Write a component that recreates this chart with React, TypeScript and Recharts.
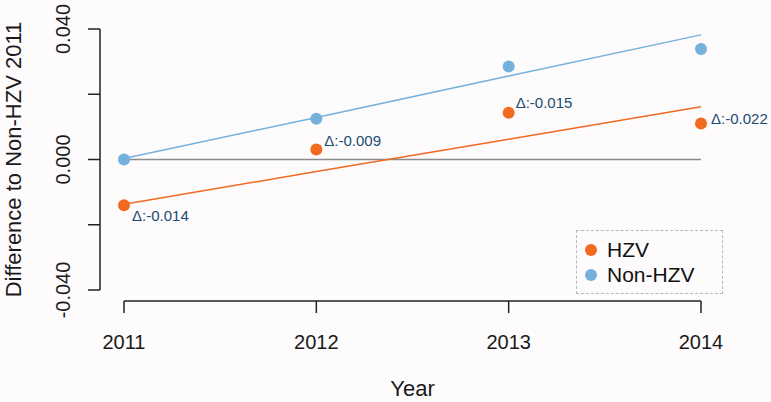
import React from 'react';
import {
  ComposedChart,
  Line,
  XAxis,
  YAxis,
  ReferenceLine,
  LabelList,
  Label
} from 'recharts';

const years = [2011, 2012, 2013, 2014];
const hzv = [-0.014, 0.0031, 0.0143, 0.011];
const nonHzv = [0.0, 0.0125, 0.0285, 0.0339];
// fitted trend lines
const hzvFit = [-0.0137, -0.0037, 0.0062, 0.0162];
const nonHzvFit = [0.0003, 0.0129, 0.0256, 0.0382];
const deltaLabels = ['Δ:-0.014', 'Δ:-0.009', 'Δ:-0.015', 'Δ:-0.022'];
const yTicks = [-0.04, -0.02, 0, 0.02, 0.04];
const yTickLabels = ['-0.040', '', '0.000', '', '0.040'];

const labelOffsets = [
  [8, 10],
  [8, -9],
  [7, -10],
  [10, -5]
];

const ORANGE = '#f26a1f';
const BLUE = '#74b1dc';
const FONT = '"Liberation Sans", Arial, sans-serif';

const data = years.map((year, i) => ({
  year,
  hzv: hzv[i],
  nonHzv: nonHzv[i],
  hzvFit: hzvFit[i],
  nonHzvFit: nonHzvFit[i],
  delta: deltaLabels[i]
}));

const YTick = (props: any) => {
  const { x, y, payload } = props;
  const label = yTickLabels[yTicks.indexOf(payload.value)];
  if (!label) return <g />;
  const cx = x - 49;
  return (
    <text
      x={cx}
      y={y}
      textAnchor="middle"
      dominantBaseline="central"
      transform={`rotate(-90 ${cx} ${y})`}
      fontSize={20}
      fill="#1a1a1a"
      fontFamily={FONT}
    >
      {label}
    </text>
  );
};

const renderDelta = (props: any) => {
  const off = labelOffsets[props.index] || [0, 0];
  return (
    <text
      x={props.x + off[0]}
      y={props.y + off[1]}
      dominantBaseline="central"
      fontSize={15}
      fill="#1b4b72"
      fontFamily={FONT}
    >
      {props.value}
    </text>
  );
};

const legendItems = [
  { name: 'HZV', color: ORANGE },
  { name: 'Non-HZV', color: BLUE }
];

function LegendBox() {
  return (
    <div
      style={{
        position: 'absolute',
        left: 576,
        top: 230,
        width: 147,
        height: 64,
        border: '1px dashed #b8b8b8',
        boxSizing: 'border-box',
        padding: '6px 0 0 7px',
        fontFamily: FONT,
        background: '#fdfbfc'
      }}
    >
      {legendItems.map((it) => (
        <div key={it.name} style={{ display: 'flex', alignItems: 'center', height: 25 }}>
          <svg width={14} height={14} style={{ marginRight: 9 }}>
            <circle cx={7} cy={7} r={6} fill={it.color} />
          </svg>
          <span style={{ fontSize: 21, color: '#111' }}>{it.name}</span>
        </div>
      ))}
    </div>
  );
}

export default function App() {
  return (
    <div
      style={{
        position: 'absolute',
        left: 0,
        top: 0,
        width: 771,
        height: 402,
        background: '#fdfbfc',
        fontFamily: FONT
      }}
    >
      <ComposedChart
        width={771}
        height={402}
        data={data}
        margin={{ top: 29, right: 70, left: 0, bottom: 0 }}
      >
        <XAxis
          dataKey="year"
          type="number"
          domain={[2011, 2014]}
          ticks={years}
          height={112}
          tickSize={12}
          tickMargin={33}
          axisLine={{ stroke: '#222', strokeWidth: 1.5, transform: 'translate(0,11)' }}
          tickLine={{ stroke: '#222', strokeWidth: 1.5, transform: 'translate(0,11)' }}
          tick={{ fontSize: 20, fill: '#1a1a1a', fontFamily: FONT }}
        >
          <Label
            value="Year"
            position="insideBottom"
            offset={6}
            style={{ fontSize: 22, fill: '#1a1a1a', fontFamily: FONT }}
          />
        </XAxis>
        <YAxis
          type="number"
          domain={[-0.04, 0.04]}
          ticks={yTicks}
          width={124}
          tickSize={12}
          tickMargin={0}
          interval={0}
          axisLine={{ stroke: '#222', strokeWidth: 1.5, transform: 'translate(-24,0)' }}
          tickLine={{ stroke: '#222', strokeWidth: 1.5, transform: 'translate(-24,0)' }}
          tick={<YTick />}
        >
          <Label
            value="Difference to Non-HZV 2011"
            angle={-90}
            position="insideLeft"
            offset={13}
            style={{ fontSize: 22, fill: '#1a1a1a', fontFamily: FONT, textAnchor: 'middle' }}
          />
        </YAxis>
        <ReferenceLine y={0} stroke="#8c8c8c" strokeWidth={1.5} />
        <Line
          dataKey="nonHzvFit"
          stroke={BLUE}
          strokeWidth={1.5}
          dot={false}
          legendType="none"
          isAnimationActive={false}
        />
        <Line
          dataKey="hzvFit"
          stroke={ORANGE}
          strokeWidth={1.5}
          dot={false}
          legendType="none"
          isAnimationActive={false}
        />
        <Line
          dataKey="nonHzv"
          name="Non-HZV"
          stroke="none"
          dot={{ r: 6, fill: BLUE, stroke: 'none' }}
          isAnimationActive={false}
        />
        <Line
          dataKey="hzv"
          name="HZV"
          stroke="none"
          dot={{ r: 6, fill: ORANGE, stroke: 'none' }}
          isAnimationActive={false}
        >
          <LabelList dataKey="delta" content={renderDelta} />
        </Line>
      </ComposedChart>
      <LegendBox />
    </div>
  );
}
